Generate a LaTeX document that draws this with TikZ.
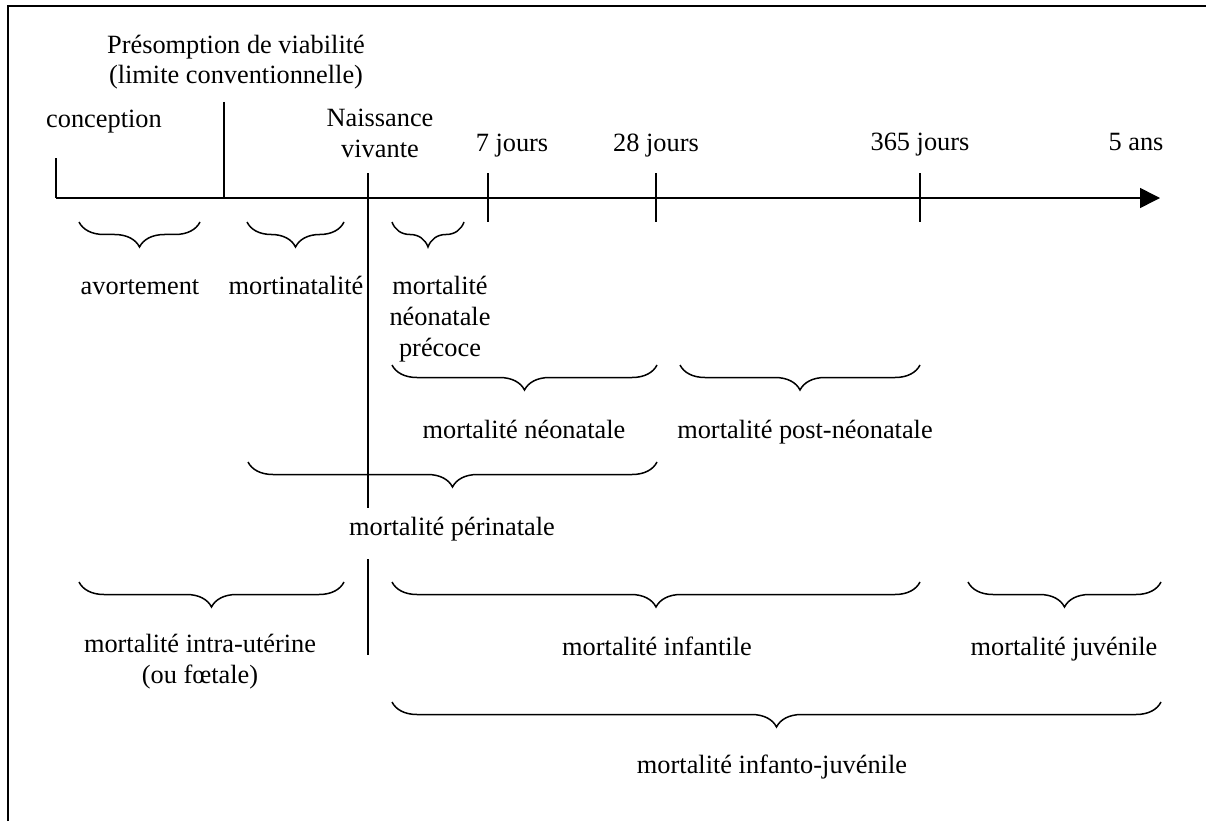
\documentclass[tikz,border=0pt]{standalone}
\usepackage{fontspec}
\setmainfont{Liberation Serif}
\usetikzlibrary{arrows.meta,decorations.pathreplacing}
\tikzset{
	accolade/.style={decorate, decoration={brace, mirror, amplitude=0.5cm}, line width=0.03cm},
	etiquette/.style={anchor=base, inner sep=0pt, align=center, font=\fontsize{15}{17.6}\selectfont},
}

\begin{document}
\begin{tikzpicture}[x=0.02cm, y=-0.02cm]
		%%%%% START %%%%%
		\useasboundingbox (0, 0) rectangle (1206, 821);
		
		% cadre
		\draw[line width=0.05cm] (8, 821) -- (8, 6) -- (1206, 6);
		
		% axe du temps
		\coordinate (debut) at (56, 198);
		\coordinate (fin) at (1160, 198);
		\draw[line width=0.03cm, -{Triangle[length=0.4cm, width=0.4cm]}] (debut) -- (fin);
		\draw[line width=0.03cm] (56, 158) -- (debut);
		\draw[line width=0.03cm] (224, 102) -- (224, 198);
		\draw[line width=0.03cm] (488, 173) -- (488, 222);
		\draw[line width=0.03cm] (656, 173) -- (656, 222);
		\draw[line width=0.03cm] (920, 173) -- (920, 222);
		
		% (base = derniere ligne pour les textes sur deux lignes)
		\node[etiquette] (viab) at (236, 84) {Présomption de viabilité\\(limite conventionnelle)};
		\node[etiquette] (concep) at (104, 128) {conception};
		\node[etiquette] (naiss) at (380, 157) {Naissance\\vivante};
		\node[etiquette] (j7) at (512, 152) {7 jours};
		\node[etiquette] (j28) at (656, 152) {28 jours};
		\node[etiquette] (j365) at (920, 151) {365 jours};
		\node[etiquette] (a5) at (1136, 151) {5 ans};
		
		% accolades du haut
		\draw[accolade] (79, 222) -- (200, 222);
		\draw[accolade] (247, 222) -- (344, 222);
		\draw[accolade] (392, 222) -- (464, 222);
		
		\node[etiquette] (avort) at (140, 294) {avortement};
		\node[etiquette] (mortin) at (296, 294) {mortinatalité};
		\node[etiquette] (precoce) at (440, 356) {mortalité\\néonatale\\précoce};
		
		\draw[accolade] (392, 365) -- (657, 365);
		\draw[accolade] (680, 365) -- (920, 365);
		
		\node[etiquette] (neonat) at (524, 438) {mortalité néonatale};
		\node[etiquette] (postneo) at (805, 438) {mortalité post-néonatale};
		
		\draw[accolade] (248, 462) -- (657, 462);
		\node[etiquette] (perinat) at (452, 535) {mortalité périnatale};
		
		% ligne de la naissance, coupee par le texte
		\coordinate (nv1) at (368, 173);
		\coordinate (nv2) at (368, 508);
		\coordinate (nv3) at (368, 559);
		\coordinate (nv4) at (368, 655);
		\draw[line width=0.03cm] (nv1) -- (nv2);
		\draw[line width=0.03cm] (nv3) -- (nv4);
		
		% accolades du bas
		\draw[accolade] (79, 582) -- (344, 582);
		\draw[accolade] (392, 582) -- (920, 582);
		\draw[accolade] (968, 582) -- (1161, 582);
		
		\node[etiquette] (intra) at (200, 683) {mortalité intra-utérine\\(ou fœtale)};
		\node[etiquette] (infant) at (657, 655) {mortalité infantile};
		\node[etiquette] (juven) at (1064, 655) {mortalité juvénile};
		
		\draw[accolade] (392, 702) -- (1161, 702);
		\node[etiquette] (infjuv) at (772, 773) {mortalité infanto-juvénile};
		%%%%% END %%%%%
\end{tikzpicture}
\end{document}
